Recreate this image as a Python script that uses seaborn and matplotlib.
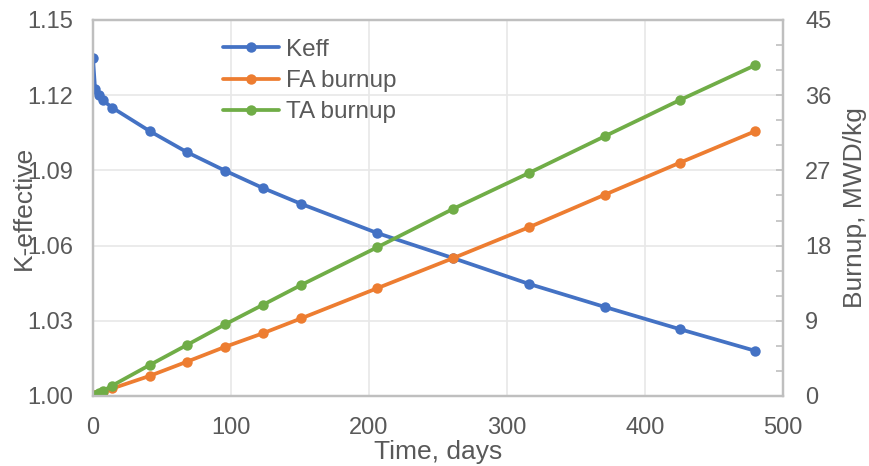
import matplotlib
matplotlib.use("Agg")
import matplotlib.pyplot as plt
from matplotlib.ticker import MultipleLocator, FixedLocator
import seaborn as sns
import pandas as pd

time_days = [0, 1.5, 4, 7, 14, 41, 68, 96, 123, 151, 206, 261, 316, 371, 425, 480]
keff = [1.1348, 1.1224, 1.1200, 1.1180, 1.1150, 1.1057, 1.0973, 1.0898, 1.0830,
        1.0766, 1.0650, 1.0550, 1.0447, 1.0355, 1.0267, 1.0180]
fa_burnup = [0, 0.10, 0.26, 0.46, 0.90, 2.4, 4.1, 5.9, 7.5, 9.3, 12.9, 16.5, 20.2,
             24.1, 27.9, 31.7]
ta_burnup = [0, 0.12, 0.33, 0.58, 1.25, 3.7, 6.1, 8.6, 10.9, 13.3, 17.8, 22.4, 26.7,
             31.1, 35.4, 39.6]
keff_ticks = [1.00, 1.03, 1.06, 1.09, 1.12, 1.15]
burnup_ticks = [0, 9, 18, 27, 36, 45]
time_ticks = [0, 100, 200, 300, 400, 500]

series_names = ["Keff", "FA burnup", "TA burnup"]
colors = ["#4472C4", "#ED7D31", "#70AD47"]

df = pd.DataFrame({"time": time_days, "Keff": keff,
                   "FA burnup": fa_burnup, "TA burnup": ta_burnup})

sns.set_style("white")
plt.rcParams["font.family"] = ["Liberation Sans", "DejaVu Sans"]
text_color = "#595959"
spine_color = "#BFBFBF"
grid_color = "#E8E8E8"

fig = plt.figure(figsize=(8.7, 4.66), dpi=100)
ax = fig.add_axes([93/870, 1-396/466, (783-93)/870, (396-20)/466])
ax2 = ax.twinx()

lw = 2.7
ms = 7.5
sns.lineplot(data=df, x="time", y="Keff", ax=ax, color=colors[0], marker="o",
             markersize=ms, linewidth=lw, markeredgewidth=0, label=series_names[0],
             legend=False)
sns.lineplot(data=df, x="time", y="FA burnup", ax=ax2, color=colors[1], marker="o",
             markersize=ms, linewidth=lw, markeredgewidth=0, label=series_names[1],
             legend=False)
sns.lineplot(data=df, x="time", y="TA burnup", ax=ax2, color=colors[2], marker="o",
             markersize=ms, linewidth=lw, markeredgewidth=0, label=series_names[2],
             legend=False)

ax.set_xlim(time_ticks[0], time_ticks[-1])
ax.set_ylim(keff_ticks[0], keff_ticks[-1])
ax2.set_ylim(burnup_ticks[0], burnup_ticks[-1])
ax.xaxis.set_major_locator(FixedLocator(time_ticks))
ax.yaxis.set_major_locator(FixedLocator(keff_ticks))
ax2.yaxis.set_major_locator(FixedLocator(burnup_ticks))
ax2.yaxis.set_minor_locator(MultipleLocator(3))
ax.yaxis.set_major_formatter(matplotlib.ticker.FormatStrFormatter("%.2f"))

ax.grid(True, color=grid_color, linewidth=1.2)
ax.set_axisbelow(True)

for a in (ax, ax2):
    for s in a.spines.values():
        s.set_color(spine_color)
        s.set_linewidth(1.6)

ax.tick_params(axis="both", labelsize=17, colors=text_color, length=0)
ax.tick_params(axis="y", pad=14)
ax.tick_params(axis="x", pad=15)
ax2.tick_params(axis="y", which="both", direction="in", length=5, width=1.2,
                color=spine_color, labelcolor=text_color, labelsize=17, pad=16)

ax.set_xlabel("Time, days", fontsize=19, color=text_color)
ax.set_ylabel("K-effective", fontsize=19, color=text_color)
ax2.set_ylabel("Burnup, MWD/kg", fontsize=19, color=text_color, rotation=90)
ax.xaxis.set_label_coords(0.5, -0.118)
ax.yaxis.set_label_coords(-0.083, 0.5)
ax2.yaxis.set_label_coords(1.087, 0.5)
ax2.yaxis.label.set_verticalalignment("top")

h1, l1 = ax.get_legend_handles_labels()
h2, l2 = ax2.get_legend_handles_labels()
leg = ax2.legend(h1 + h2, l1 + l2, loc="upper left", bbox_to_anchor=(0.188, 0.95),
                 frameon=False, fontsize=17.5, handlelength=2.3, handletextpad=0.3,
                 labelspacing=0.38, borderaxespad=0, borderpad=0)
for t in leg.get_texts():
    t.set_color(text_color)

fig.savefig("out.png", dpi=100)
